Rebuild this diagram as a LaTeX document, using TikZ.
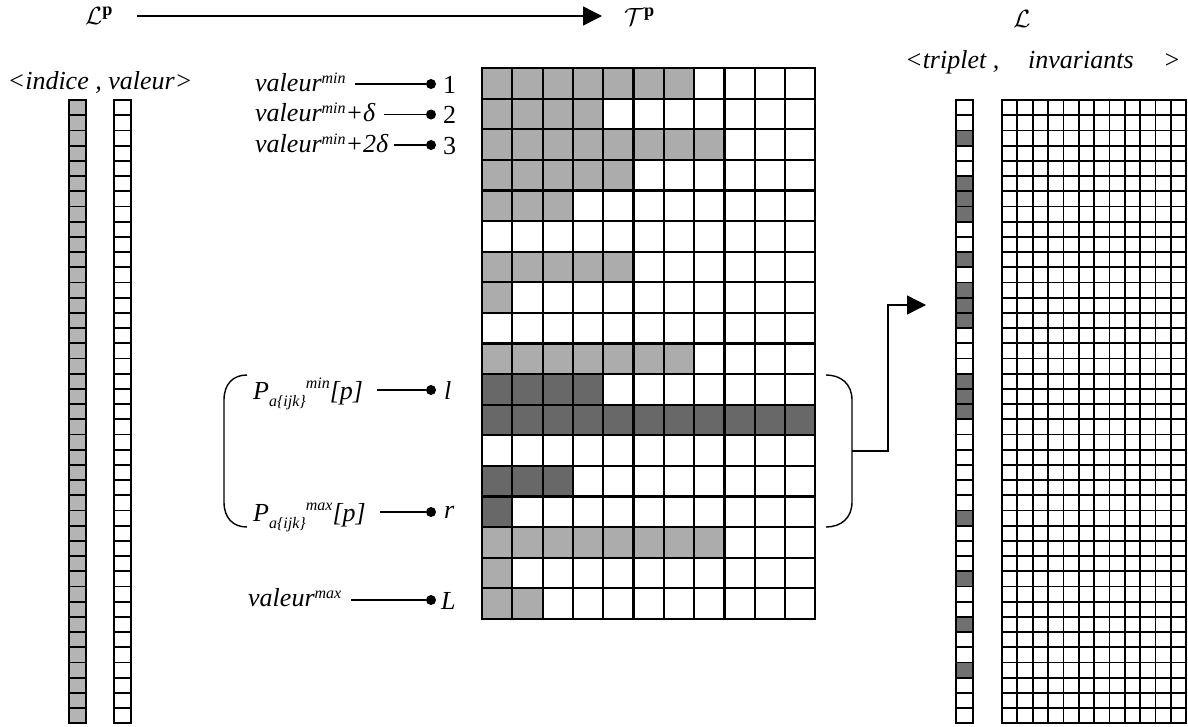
\documentclass[tikz,border=0pt]{standalone}
\usepackage{fontspec}
\setmainfont{Liberation Serif}
\usetikzlibrary{arrows.meta,calc}
\definecolor{lightc}{RGB}{172,172,172}
\definecolor{darkc}{RGB}{104,104,104}
\definecolor{colc}{RGB}{180,180,180}
\definecolor{rdark}{RGB}{112,112,112}
\newcommand{\lbfont}{\fontsize{26}{30}\selectfont}
\newcommand{\smf}{\fontsize{16}{16}\selectfont}
\newcommand{\upx}[2][8pt]{\raisebox{#1}{\smf #2}}
\newcommand{\dnx}[1]{\raisebox{-7pt}{\smf #1}}
\begin{document}
\begin{tikzpicture}[x=1pt,y=-1pt,
  lbl/.style={inner sep=0pt, font=\lbfont\itshape},
  num/.style={inner sep=0pt, font=\lbfont},
  dotn/.style={circle, fill=black, inner sep=0pt, minimum size=10pt},
  conn/.style={line width=1.3pt},
  big/.style={line width=1.4pt, -{Triangle[length=19pt,width=19pt]}},
  brk/.style={line width=1.4pt},
  gridl/.style={line width=2.2pt, line cap=rect},
  coll/.style={line width=1.8pt, line cap=rect}]
\useasboundingbox (0,0) rectangle (1188,726);
% ---------- top labels ----------
\node[num, anchor=west] (Lp) at (85,16) {$\mathcal{L}^{\mathbf{p}}$};
\node[num, anchor=west] (Tp) at (624,17) {$\mathcal{T}^{\mathbf{p}}$};
\draw[big] ($(Lp.east)+(24pt,0)$) -- ($(Tp.west |- Lp.east)+(-22pt,0)$);
\node[num, anchor=base] (Lr) at (1022,27) {$\mathcal{L}$};
% ---------- left columns ----------
\node[lbl, anchor=base] (hdr) at (100,89) {<indice , valeur>};
\fill[colc] (69,100) rectangle (86,723.2);
\foreach \j in {0,...,41} {
  \draw[coll] (69,{100+\j*15.2}) -- (86,{100+\j*15.2});
  \draw[coll] (114,{100+\j*15.2}) -- (131,{100+\j*15.2});
}
\foreach \x in {69,86,114,131} \draw[coll] (\x,100) -- (\x,723.2);
% ---------- middle grid ----------
\foreach \r/\n/\c in {1/7/lightc,2/4/lightc,3/8/lightc,4/5/lightc,5/3/lightc,7/5/lightc,8/1/lightc,10/7/lightc,11/4/darkc,12/11/darkc,14/3/darkc,15/1/darkc,16/8/lightc,17/1/lightc,18/2/lightc}
  \fill[\c] (482,{68+(\r-1)*30.6}) rectangle ({482+\n*30.3},{68+\r*30.6});
\foreach \i in {0,...,11} \draw[gridl] ({482+\i*30.3},68) -- ({482+\i*30.3},618.8);
\foreach \j in {0,...,18} \draw[gridl] (482,{68+\j*30.6}) -- (815.3,{68+\j*30.6});
% ---------- middle labels ----------
\node[lbl, anchor=base west] (v1) at (255,91) {valeur\upx{min}};
\node[dotn] (d1) at (431,84) {};
\node[num, anchor=base west] (n1) at (443,93) {1};
\draw[conn] ($(v1.east |- d1)+(9pt,0)$) -- (d1);
\node[lbl, anchor=base west] (v2) at (255,121.5) {valeur\upx{min}+δ};
\node[dotn] (d2) at (431,114.5) {};
\node[num, anchor=base west] (n2) at (443,123.5) {2};
\draw[conn] ($(v2.east |- d2)+(9pt,0)$) -- (d2);
\node[lbl, anchor=base west] (v3) at (255,152) {valeur\upx{min}+2δ};
\node[dotn] (d3) at (431,145) {};
\node[num, anchor=base west] (n3) at (443,154) {3};
\draw[conn] ($(v3.east |- d3)+(6pt,0)$) -- (d3);
\node[lbl, anchor=base west] (pmin) at (253,399) {P\dnx{a\{ijk\}}\upx[11pt]{min}[p]};
\node[dotn] (dl) at (431,390) {};
\node[lbl, anchor=base west] (nl) at (444,399) {l};
\draw[conn] ($(pmin.east |- dl)+(14pt,0)$) -- (dl);
\node[lbl, anchor=base west] (pmax) at (253,521) {P\dnx{a\{ijk\}}\upx[11pt]{max}[p]};
\node[dotn] (dr) at (431,512) {};
\node[lbl, anchor=base west] (nr) at (444,518) {r};
\draw[conn] ($(pmax.east |- dr)+(14pt,0)$) -- (dr);
\node[lbl, anchor=base west] (vmax) at (248,606) {valeur\upx{max}};
\node[dotn] (dL) at (431,600) {};
\node[lbl, anchor=base west] (nL) at (441,609) {L};
\draw[conn] ($(vmax.east |- dL)+(10pt,0)$) -- (dL);
% ---------- brackets and arrow ----------
\draw[brk] (247,375) .. controls (233,375) and (224,384) .. (224,400) -- (224,502) .. controls (224,518) and (233,527) .. (247,527);
\draw[brk] (826,375) .. controls (841,375) and (852,384) .. (852,400) -- (852,502) .. controls (852,518) and (841,527) .. (826,527);
\coordinate (bm) at (852,451);
\coordinate (tip) at (926,305);
\draw[big] (bm) -| (888,305) -- (tip);
% ---------- right side ----------
\node[lbl, anchor=base west] (trip) at (905,68) {<triplet ,};
\node[lbl, anchor=base west] (inv) at (1028,68) {invariants};
\node[lbl, anchor=base west] (gt) at (1163,68) {>};
\foreach \k in {3,6,7,8,11,13,14,15,19,20,21,28,32,35,38}
  \fill[rdark] (956,{100+(\k-1)*15.2}) rectangle (973,{100+\k*15.2});
\foreach \j in {0,...,41} {
  \draw[coll] (956,{100+\j*15.2}) -- (973,{100+\j*15.2});
  \draw[coll] (1002,{100+\j*15.2}) -- (1186.2,{100+\j*15.2});
}
\foreach \x in {956,973} \draw[coll] (\x,100) -- (\x,723.2);
\foreach \i in {0,...,12} \draw[coll] ({1002+\i*15.35},100) -- ({1002+\i*15.35},723.2);
\end{tikzpicture}
\end{document}
